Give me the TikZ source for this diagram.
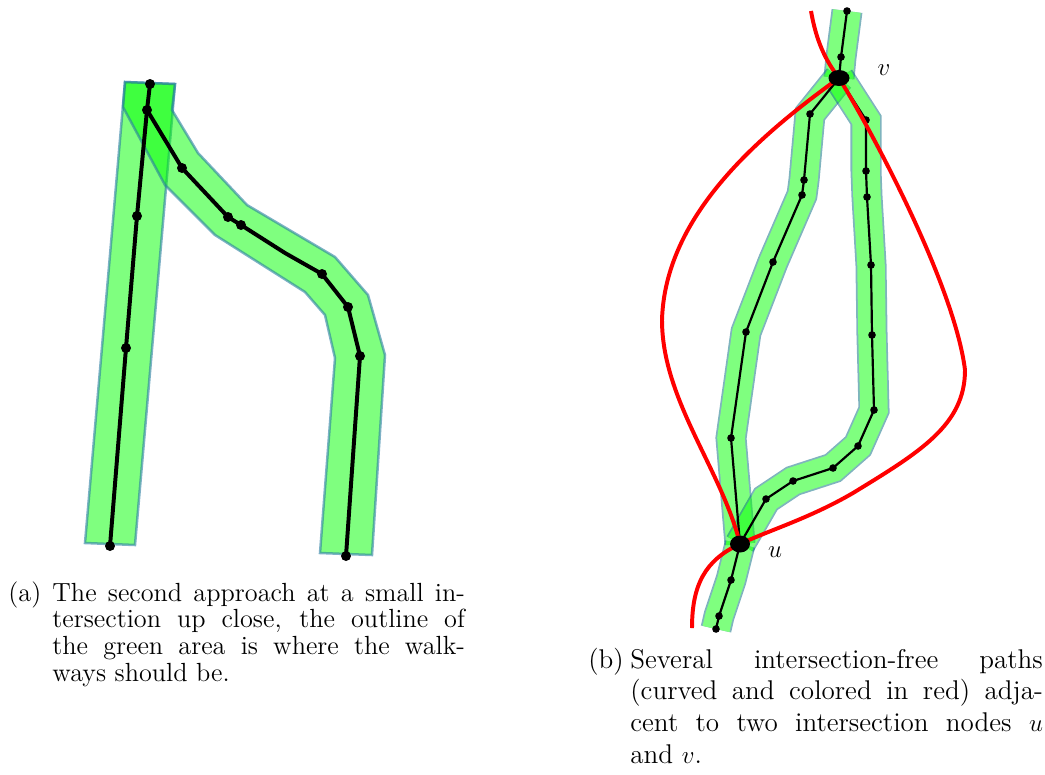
\documentclass[tikz,border=0pt]{standalone}
\definecolor{rimblue}{RGB}{40,125,160}
\definecolor{rimdark}{RGB}{0,105,125}
\begin{document}
\begin{tikzpicture}[x=0.48pt,y=-0.48pt,
  area/.style={fill=green, fill opacity=0.5, draw=rimblue, draw opacity=0.6, line width=1.2pt, line join=miter},
  rim/.style={draw=rimdark, line width=14.9pt, line join=miter},
  lawn/.style={draw=green, line width=13.2pt, line join=miter},
  thickpath/.style={line width=1.9pt, line join=round},
  thinpath/.style={line width=1.05pt, line join=round},
  redpath/.style={red, line width=1.9pt, line cap=butt},
  caption/.style={inner sep=0pt, anchor=base west},
  captext/.style={inner sep=0pt, anchor=base west, text width=198pt, align=justify}]
  \useasboundingbox (0,0) rectangle (1045,774);

  % ---- Left panel: walkway areas ----
  \draw[area] (125,82) -- (175,84) -- (135,545) -- (85,543) -- cycle;
  \draw[area] (125,82) -- (175,84) -- (172,110) -- (198,153) -- (247,205) -- (335,257) -- (368,295)
    -- (385,355) -- (372,555) -- (320,553) -- (335,358) -- (325,315) -- (305,292) -- (215,235)
    -- (165,185) -- (123,107) -- cycle;

  % ---- Left panel: paths ----
  \coordinate (a0) at (150,84);
  \coordinate (a1) at (147,110);
  \coordinate (a2) at (137,216);
  \coordinate (a3) at (126,348);
  \coordinate (a4) at (110,546);
  \coordinate (b1) at (182,168);
  \coordinate (b2) at (228,217);
  \coordinate (b3) at (241,225);
  \coordinate (b4) at (285,253);
  \coordinate (b5) at (322,274);
  \coordinate (b6) at (348,307);
  \coordinate (b7) at (360,356);
  \coordinate (b8) at (346,556);
  \draw[thickpath] (a0) -- (a1) -- (a2) -- (a3) -- (a4);
  \draw[thickpath] (a1) -- (b1) -- (b2) -- (b3) -- (b4) -- (b5) -- (b6) -- (b7) -- (b8);
  \foreach \p in {a0,a1,a2,a3,a4,b1,b2,b3,b5,b6,b7,b8} {\fill (\p) circle (5);}

  % ---- Right panel: nodes ----
  \coordinate (v) at (839,78);
  \coordinate (u) at (740,544);
  \coordinate (t0) at (847,11);
  \coordinate (t1) at (841,57);
  \coordinate (p1) at (810,114);
  \coordinate (p2) at (804,180);
  \coordinate (p3) at (802,195);
  \coordinate (p4) at (773,262);
  \coordinate (p5) at (746,332);
  \coordinate (p6) at (731,438);
  \coordinate (q1) at (866,120);
  \coordinate (q2) at (866,171);
  \coordinate (q3) at (867,197);
  \coordinate (q4) at (871,265);
  \coordinate (q5) at (872,335);
  \coordinate (q6) at (874,410);
  \coordinate (q7) at (858,446);
  \coordinate (q8) at (833,468);
  \coordinate (q9) at (793,481);
  \coordinate (q10) at (766,499);
  \coordinate (r1) at (731,580);
  \coordinate (r2) at (719,616);
  \coordinate (r3) at (716,629);

  % ---- Right panel: walkway areas ----
  \begin{scope}[transparency group, opacity=0.5]
    \draw[rim] (t0) -- (t1) -- (v);
    \draw[lawn] (t0) -- (t1) -- (v);
  \end{scope}
  \begin{scope}[transparency group, opacity=0.5]
    \draw[rim] (v) -- (p1) -- (p2) -- (p3) -- (p4) -- (p5) -- (p6) -- (u);
    \draw[lawn] (v) -- (p1) -- (p2) -- (p3) -- (p4) -- (p5) -- (p6) -- (u);
  \end{scope}
  \begin{scope}[transparency group, opacity=0.5]
    \draw[rim] (v) -- (q1) -- (q2) -- (q3) -- (q4) -- (q5) -- (q6) -- (q7) -- (q8) -- (q9) -- (q10) -- (u);
    \draw[lawn] (v) -- (q1) -- (q2) -- (q3) -- (q4) -- (q5) -- (q6) -- (q7) -- (q8) -- (q9) -- (q10) -- (u);
  \end{scope}
  \begin{scope}[transparency group, opacity=0.5]
    \draw[rim] (u) -- (r1) -- (r2) -- (r3);
    \draw[lawn] (u) -- (r1) -- (r2) -- (r3);
  \end{scope}

  % ---- Right panel: paths ----
  \draw[thinpath] (t0) -- (t1) -- (v);
  \draw[thinpath] (v) -- (p1) -- (p2) -- (p3) -- (p4) -- (p5) -- (p6) -- (u);
  \draw[thinpath] (v) -- (q1) -- (q2) -- (q3) -- (q4) -- (q5) -- (q6) -- (q7) -- (q8) -- (q9) -- (q10) -- (u);
  \draw[thinpath] (u) -- (r1) -- (r2) -- (r3);
  \foreach \p in {t0,t1,p1,p2,p3,p4,p5,p6,q1,q2,q3,q4,q5,q6,q7,q8,q9,q10,r1,r2,r3} {\fill (\p) circle (3.8);}

  % ---- Right panel: red intersection-free paths ----
  \coordinate (redtop) at (811,11);
  \coordinate (redend) at (692,628);
  \draw[redpath] (redtop) .. controls (816,40) and (825,60) .. (v)
    .. controls (880,145) and (955,290) .. (965,370)
    .. controls (965,425) and (920,452) .. (853,493)
    .. controls (810,518) and (770,530) .. (u);
  \draw[redpath] (v) .. controls (760,135) and (665,215) .. (662,320)
    .. controls (662,400) and (722,470) .. (u)
    .. controls (705,560) and (692,585) .. (redend);

  \fill (v) ellipse [x radius=10.5, y radius=8];
  \fill (u) ellipse [x radius=10, y radius=8.5];
  \node[font=\fontsize{13}{15}\selectfont] (v-label) at (884,70) {$v$};
  \node[font=\fontsize{13}{15}\selectfont] (u-label) at (775,552) {$u$};

  % ---- Captions ----
  \node[caption, font=\fontsize{12.6}{12.8}\selectfont] (cap-a-tag) at (8,601) {(a)};
  \node[captext, font=\fontsize{12.6}{12.8}\selectfont] (cap-a) at (52,601) {The second approach at a small in-\linebreak
    tersection up close, the outline of\linebreak the green area is where the walk-\linebreak ways should be.};
  \node[caption, font=\fontsize{13}{15.3}\selectfont] (cap-b-tag) at (588,668) {(b)};
  \node[captext, font=\fontsize{13}{15.3}\selectfont] (cap-b) at (630,668) {Several intersection-free paths\linebreak
    (curved and colored in red) adja-\linebreak cent to two intersection nodes $u$\linebreak and $v$.};
\end{tikzpicture}
\end{document}
